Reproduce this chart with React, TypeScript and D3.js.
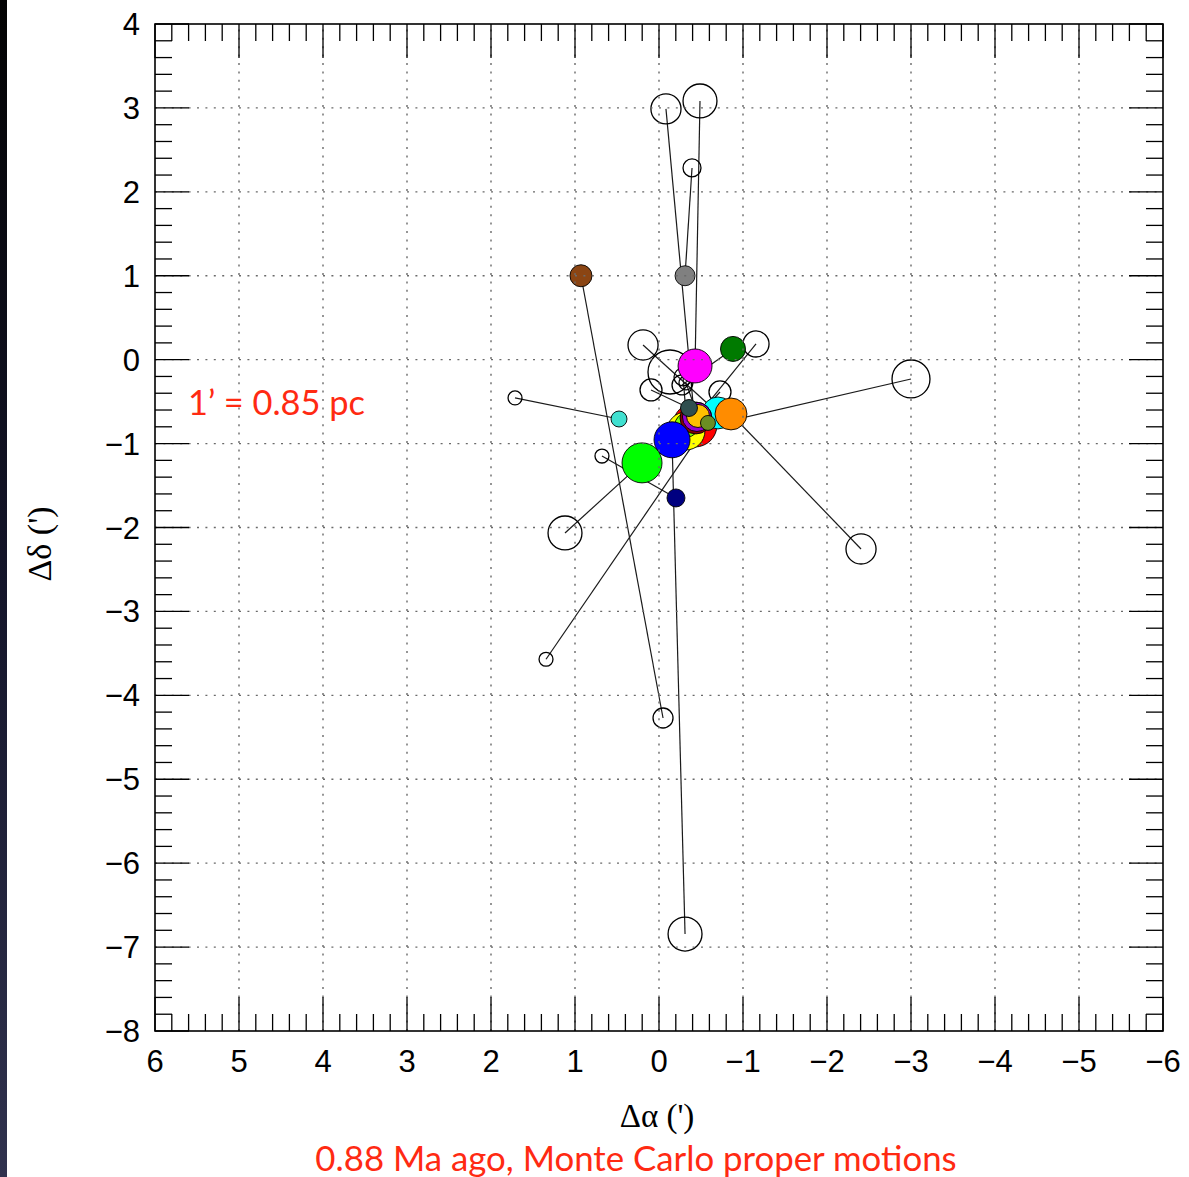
import React from 'react';
import * as d3 from 'd3';

const W = 1189;
const H = 1177;

// axis ticks (arcmin)
const xMajor = [6, 5, 4, 3, 2, 1, 0, -1, -2, -3, -4, -5, -6];
const yMajor = [4, 3, 2, 1, 0, -1, -2, -3, -4, -5, -6, -7, -8];

// current positions of stars (arcmin), drawn in this order
const starName = ['red', 'yellow', 'cyan', 'orange', 'lime', 'maroon', 'purple', 'gold', 'blue', 'green', 'slate', 'olive', 'magenta', 'darkgreen', 'navy', 'turquoise', 'brown', 'gray'];
const starX = [-0.429, -0.321, -0.702, -0.857, -0.333, -0.44, -0.452, -0.464, -0.155, 0.202, -0.357, -0.583, -0.429, -0.881, -0.202, 0.476, 0.929, -0.31];
const starY = [-0.778, -0.85, -0.635, -0.647, -0.778, -0.695, -0.683, -0.671, -0.955, -1.23, -0.576, -0.754, -0.075, 0.128, -1.648, -0.707, 1.0, 1.0];
const starR = [0.262, 0.226, 0.19, 0.19, 0.143, 0.19, 0.173, 0.137, 0.214, 0.238, 0.101, 0.089, 0.202, 0.149, 0.107, 0.095, 0.131, 0.119];
const starFill = ['#ff0000', '#ffff00', '#00ffff', '#ff8c00', '#7fff00', '#8b0000', '#9400d3', '#ffbf00', '#0000ff', '#00ff00', '#2f4f4f', '#6b8e23', '#ff00ff', '#007a00', '#000080', '#40e0d0', '#8b4513', '#808080'];

// positions 0.88 Ma ago (arcmin), with the star they belong to
const pastX = [-0.083, -0.488, -0.393, -0.048, -0.31, 1.119, 0.679, 1.714, -2.405, 0.19, -1.155, 1.345, -3.0, -0.274, 0.095, -0.131, -0.726, -0.286, -0.321];
const pastY = [2.988, 3.083, 2.285, -4.27, -6.845, -2.065, -1.148, -0.456, -2.256, 0.175, 0.187, -3.57, -0.23, -0.301, -0.361, -0.147, -0.385, -0.206, -0.277];
const pastR = [0.179, 0.202, 0.107, 0.119, 0.202, 0.202, 0.083, 0.083, 0.179, 0.179, 0.155, 0.083, 0.226, 0.119, 0.131, 0.262, 0.131, 0.107, 0.083];
const pastOf = ['red', 'magenta', 'gray', 'brown', 'blue', 'green', 'navy', 'turquoise', 'orange', 'cyan', 'purple', 'olive', 'yellow', 'darkgreen', 'slate', '', 'maroon', 'lime', 'gold'];

const left = 155, right = 1163, top = 24, bottom = 1031;

export default function App() {
  const x = d3.scaleLinear().domain([6, -6]).range([left, right]);
  const y = d3.scaleLinear().domain([-8, 4]).range([bottom, top]);
  const unit = Math.abs(x(1) - x(0));

  const minorX = d3.range(-6, 6.0001, 0.2).filter((v) => Math.abs(v - Math.round(v)) > 1e-6);
  const minorY = d3.range(-8, 4.0001, 0.2).filter((v) => Math.abs(v - Math.round(v)) > 1e-6);
  const fmt = (v: number) => (v < 0 ? '\u2212' + Math.abs(v) : String(v));

  const minorLen = 17, majorLen = 34;
  const tickFont = "'Liberation Sans', Arial, Helvetica, sans-serif";
  const serif = "'Liberation Serif', 'DejaVu Serif', serif";
  const red = '#ff2a12';

  const links = pastX.map((px, i) => {
    const si = starName.indexOf(pastOf[i]);
    return si < 0 ? null : { x1: x(px), y1: y(pastY[i]), x2: x(starX[si]), y2: y(starY[si]) };
  });

  return (
    <svg width={W} height={H} style={{ position: 'absolute', left: 0, top: 0, background: '#fff' }}>
      <defs>
        <linearGradient id="strip" x1="0" y1="0" x2="0" y2="1">
          <stop offset="0" stopColor="#030303" />
          <stop offset="0.5" stopColor="#14152a" />
          <stop offset="1" stopColor="#30324e" />
        </linearGradient>
      </defs>
      <rect x={0} y={0} width={W} height={H} fill="#fff" />
      <rect x={0} y={0} width={7} height={H} fill="url(#strip)" />

      {/* connecting lines */}
      <g stroke="#1a1a1a" strokeWidth={1.2}>
        {links.map((l, i) => (l ? <line key={i} x1={l.x1} y1={l.y1} x2={l.x2} y2={l.y2} /> : null))}
      </g>

      {/* past positions */}
      <g fill="none" stroke="#000" strokeWidth={1.3}>
        {pastX.map((px, i) => (
          <circle key={i} cx={x(px)} cy={y(pastY[i])} r={pastR[i] * unit} />
        ))}
      </g>

      {/* current positions */}
      <g stroke="#000" strokeWidth={0.9}>
        {starX.map((sx, i) => (
          <circle key={i} cx={x(sx)} cy={y(starY[i])} r={starR[i] * unit} fill={starFill[i]} />
        ))}
      </g>

      {/* dotted grid */}
      <g stroke="#6a6a6a" strokeWidth={1.4} strokeDasharray="2 6.4">
        {xMajor.slice(1, -1).map((v) => (
          <line key={'gx' + v} x1={x(v)} x2={x(v)} y1={bottom} y2={top} />
        ))}
        {yMajor.slice(1, -1).map((v) => (
          <line key={'gy' + v} x1={left} x2={right} y1={y(v)} y2={y(v)} />
        ))}
      </g>

      {/* ticks */}
      <g stroke="#000" strokeWidth={1.3}>
        {minorX.map((v) => (
          <g key={'mx' + v}>
            <line x1={x(v)} x2={x(v)} y1={bottom} y2={bottom - minorLen} />
            <line x1={x(v)} x2={x(v)} y1={top} y2={top + minorLen} />
          </g>
        ))}
        {minorY.map((v) => (
          <g key={'my' + v}>
            <line x1={left} x2={left + minorLen} y1={y(v)} y2={y(v)} />
            <line x1={right} x2={right - minorLen} y1={y(v)} y2={y(v)} />
          </g>
        ))}
        {xMajor.map((v) => (
          <g key={'Mx' + v}>
            <line x1={x(v)} x2={x(v)} y1={bottom} y2={bottom - majorLen} />
            <line x1={x(v)} x2={x(v)} y1={top} y2={top + majorLen} />
          </g>
        ))}
        {yMajor.map((v) => (
          <g key={'My' + v}>
            <line x1={left} x2={left + majorLen} y1={y(v)} y2={y(v)} />
            <line x1={right} x2={right - majorLen} y1={y(v)} y2={y(v)} />
          </g>
        ))}
      </g>
      <rect x={left} y={top} width={right - left} height={bottom - top} fill="none" stroke="#000" strokeWidth={1.6} />

      {/* tick labels */}
      <g fontFamily={tickFont} fontSize={31} fill="#000">
        {xMajor.map((v) => (
          <text key={'lx' + v} x={x(v)} y={1072} textAnchor="middle">{fmt(v)}</text>
        ))}
        {yMajor.map((v) => (
          <text key={'ly' + v} x={140} y={y(v) + 11} textAnchor="end">{fmt(v)}</text>
        ))}
      </g>

      {/* axis titles */}
      <text x={657} y={1127} textAnchor="middle" fontFamily={serif} fontSize={33}>Δα (')</text>
      <text transform="translate(51,544) rotate(-90)" textAnchor="middle" fontFamily={serif} fontSize={34}>Δδ (')</text>

      {/* annotations */}
      <text x={188} y={415} fontFamily="Lato, 'Open Sans', sans-serif" fontSize={34.4} fill={red}>1’ = 0.85 pc</text>
      <text x={636} y={1171} textAnchor="middle" fontFamily="Lato, 'Open Sans', sans-serif" fontSize={34.8} fill={red}>0.88 Ma ago, Monte Carlo proper motions</text>
    </svg>
  );
}
